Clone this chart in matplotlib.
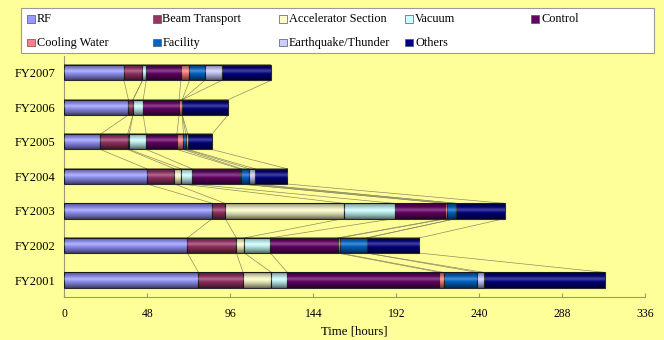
import numpy as np
import matplotlib.pyplot as plt
from matplotlib.patches import Rectangle

plt.rcParams['font.family'] = ['Liberation Serif', 'DejaVu Serif']

# Downtime per fiscal year, broken down by cause (hours)
years = ['FY2001', 'FY2002', 'FY2003', 'FY2004', 'FY2005', 'FY2006', 'FY2007']
causes = ['RF', 'Beam Transport', 'Accelerator Section', 'Vacuum', 'Control',
          'Cooling Water', 'Facility', 'Earthquake/Thunder', 'Others']
colors = ['#9999FF', '#993366', '#FFFFCC', '#CCFFFF', '#660066',
          '#FF8080', '#0066CC', '#CCCCFF', '#000080']

rf          = [77.6, 71.2, 85.7, 47.8, 20.8, 37.1, 34.5]
beam_trans  = [25.8, 28.3, 7.3, 15.9, 15.8, 2.6, 10.7]
acc_section = [16.4, 4.7, 68.6, 3.9, 1.0, 0.0, 0.0]
vacuum      = [9.2, 15.0, 29.4, 6.2, 9.8, 5.9, 2.2]
control     = [87.9, 38.9, 29.3, 27.7, 17.7, 20.8, 20.0]
cooling     = [2.4, 1.3, 1.2, 0.9, 3.8, 1.8, 5.0]
facility    = [19.6, 15.6, 5.2, 4.5, 1.4, 0.0, 8.9]
quake       = [4.0, 0.0, 0.0, 3.4, 1.2, 0.0, 9.8]
others      = [69.8, 30.4, 28.1, 18.7, 13.8, 26.5, 28.5]

series = [rf, beam_trans, acc_section, vacuum, control, cooling, facility, quake, others]
xticks = [0, 48, 96, 144, 192, 240, 288, 336]

bg = '#FFFF99'
fig = plt.figure(figsize=(6.64, 3.40), dpi=100, facecolor=bg)
ax = fig.add_axes([64.3 / 664, 42.7 / 340, 581 / 664, 241.8 / 340])
ax.set_facecolor(bg)

y = np.arange(len(years))
h = 0.44
data = np.array(series)
left = np.zeros(len(years))

for vals, c in zip(data, colors):
    ax.barh(y, vals, left=left, height=h, color=c, edgecolor='#2a2a2a',
            linewidth=0.8, zorder=3)
    left = left + vals

# gradient shading across each bar: dark edges, light band just above centre
t = np.linspace(0, 1, 64)
shade = np.zeros((64, 1, 4))
dark = 0.6 * (np.abs(t - 0.45) / 0.55) ** 1.3
light = 0.25 * np.exp(-((t - 0.42) / 0.12) ** 2)
shade[:, 0, :3] = (light / (light + dark + 1e-9))[:, None]
shade[:, 0, 3] = np.clip(dark + light, 0, 1)
for yi, tot in zip(y, left):
    ax.imshow(shade, extent=(0, tot, yi - h / 2, yi + h / 2), aspect='auto',
              interpolation='bilinear', zorder=4)

# series lines between consecutive bars
cum = np.cumsum(data, axis=0)
for row in cum:
    for i in range(len(years) - 1):
        ax.plot([row[i], row[i + 1]], [y[i] + h / 2, y[i + 1] - h / 2],
                color='#8c8c64', lw=0.5, zorder=2)

ax.set_xlim(0, 336)
ax.set_ylim(-0.5, len(years) - 0.5)
ax.set_xticks(xticks)
ax.set_yticks(y)
ax.set_yticklabels(years, fontsize=9)
ax.tick_params(axis='y', length=0, pad=6.5)
ax.tick_params(axis='x', direction='in', length=3, width=0.8, color='#999977',
               labelsize=8.4, pad=8)
ax.set_xlabel('Time [hours]', fontsize=9.2, labelpad=4)
for s in ['top', 'right']:
    ax.spines[s].set_visible(False)
for s in ['left', 'bottom']:
    ax.spines[s].set_color('#999977')
    ax.spines[s].set_linewidth(0.8)

# legend box across the top
fig.patches.append(Rectangle((21 / 664, 1 - 52.7 / 340), 633 / 664, 44.7 / 340,
                             transform=fig.transFigure, facecolor='white',
                             edgecolor='#9a9a9a', lw=0.8, zorder=1))
col_x = [27, 152.5, 279, 405, 531]
row_y = [19, 42.7]
for k, (name, c) in enumerate(zip(causes, colors)):
    cx = col_x[k % 5] / 664
    cy = 1 - row_y[k // 5] / 340
    fig.patches.append(Rectangle((cx, cy - 3.5 / 340), 8 / 664, 7 / 340,
                                 transform=fig.transFigure, facecolor=c,
                                 edgecolor='#555555', lw=0.5, zorder=2))
    fig.text(cx + 10 / 664, cy, name, fontsize=8.8, va='center', ha='left',
             zorder=3)

fig.savefig('out.png', dpi=100, facecolor=bg)
